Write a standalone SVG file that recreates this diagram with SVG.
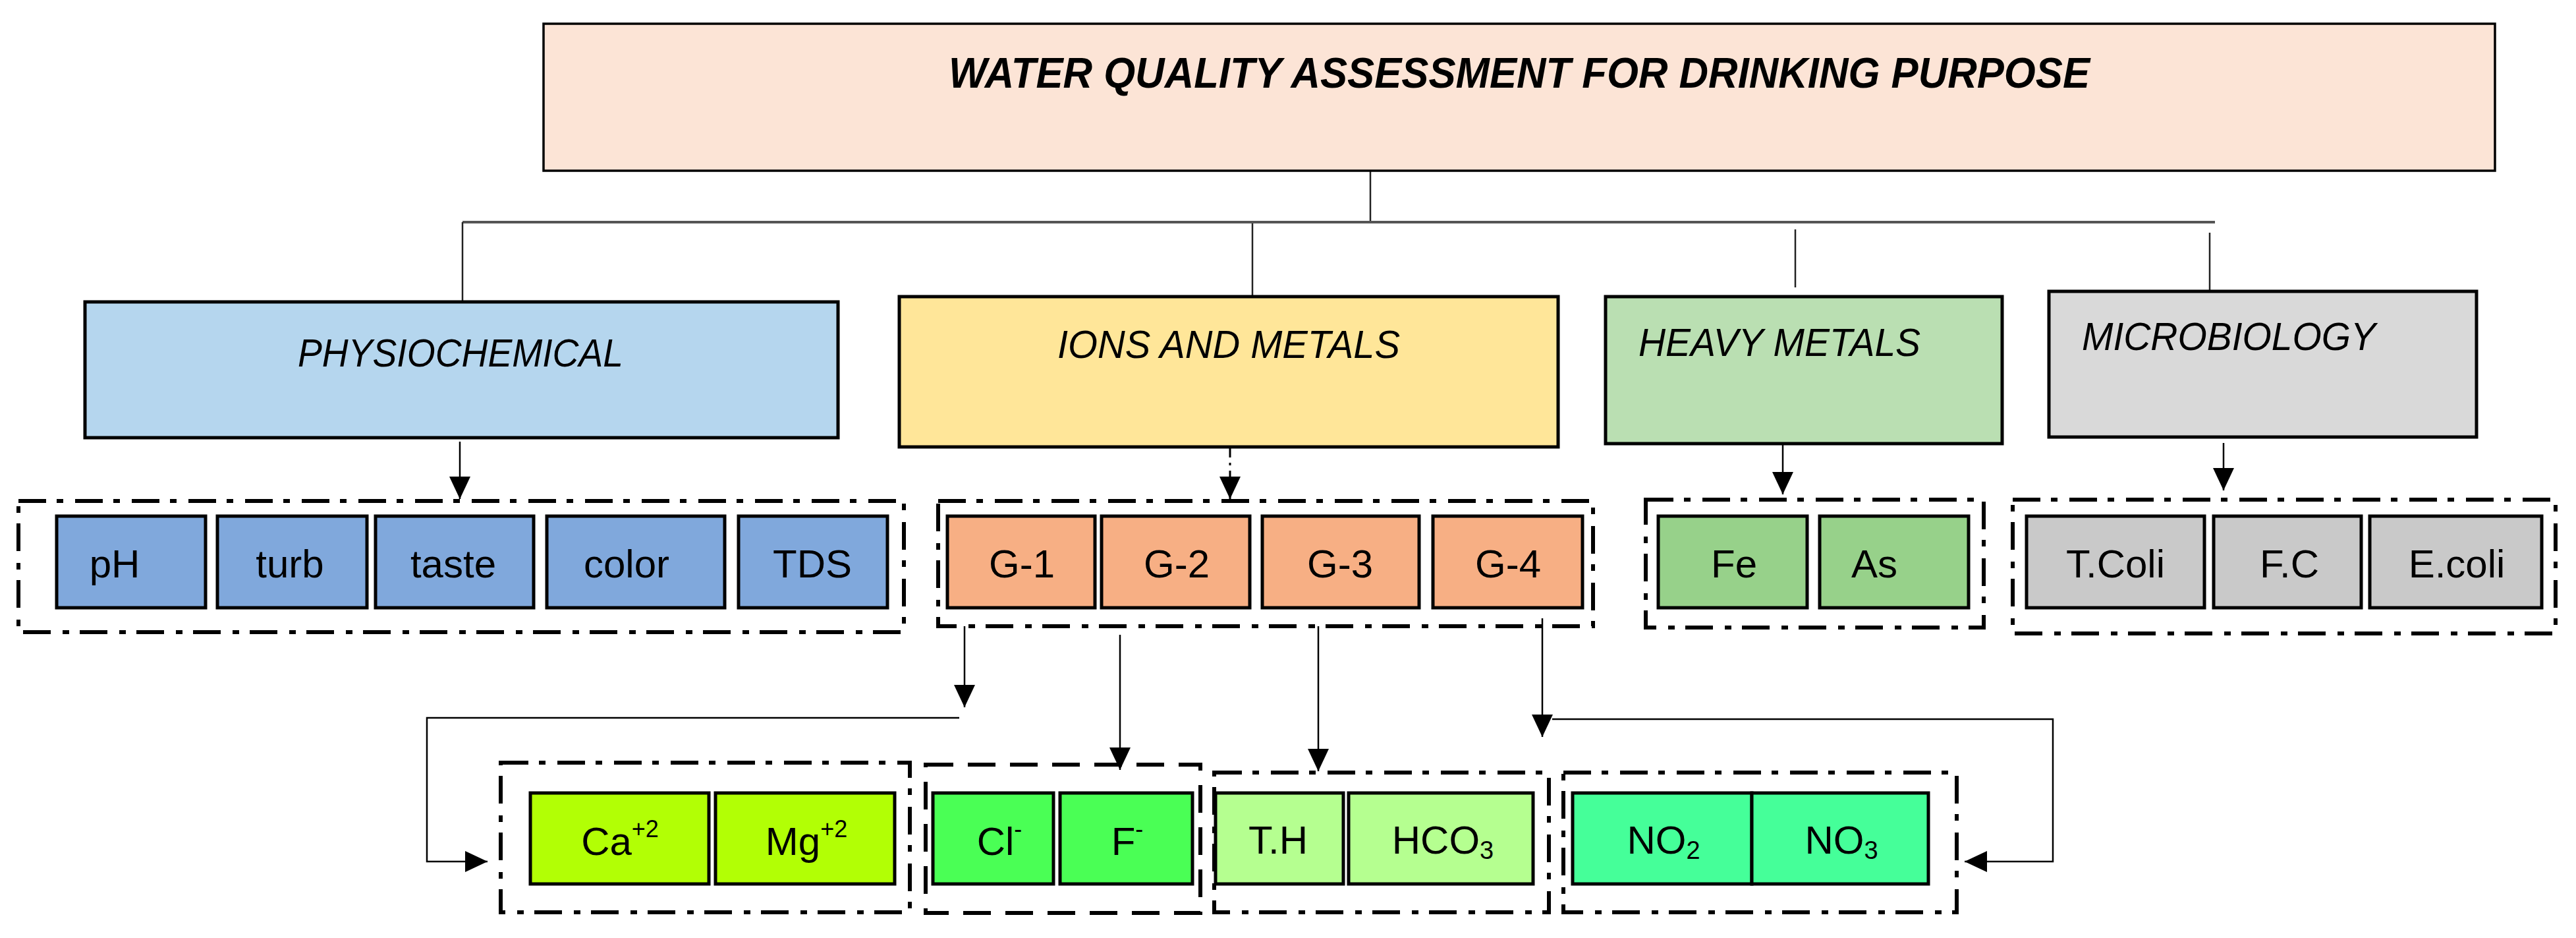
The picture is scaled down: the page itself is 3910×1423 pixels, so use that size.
<svg xmlns="http://www.w3.org/2000/svg" width="3910" height="1423" viewBox="0 0 3910 1423">
<style>
.bg{fill:#ffffff}
.box{stroke:#000;stroke-width:5}
.cat{stroke:#000;stroke-width:5}
.grp{fill:none;stroke:#000;stroke-width:6;stroke-dasharray:42 16 10 18}
.grpd{fill:none;stroke:#000;stroke-width:6;stroke-dasharray:42 22}
.lbl{font-family:"Liberation Sans",Arial,sans-serif;font-size:60px;fill:#000;text-anchor:middle}
.cattxt{font-family:"Liberation Sans",Arial,sans-serif;font-size:60px;font-style:italic;fill:#000}
.title{font-family:"Liberation Sans",Arial,sans-serif;font-size:64px;font-style:italic;font-weight:bold;fill:#000}
.ln{fill:none;stroke:#000;stroke-width:2.5}
.bus{fill:none;stroke:#555;stroke-width:4}
.drop{fill:none;stroke:#222;stroke-width:2.5}
.dash{fill:none;stroke:#000;stroke-width:3;stroke-dasharray:14 8 4 8}
</style>
<defs>
<marker id="ah" markerUnits="userSpaceOnUse" markerWidth="36" markerHeight="32" refX="34" refY="16" orient="auto">
<path d="M0,0 L34,16 L0,32 z" fill="#000"/>
</marker>
</defs>
<rect class="bg" x="0" y="0" width="3910" height="1423"/>

<g id="connectors">
<line class="drop" x1="2080" y1="259" x2="2080" y2="337"/>
<line class="bus" x1="702" y1="337" x2="3362" y2="337"/>
<line class="drop" x1="702" y1="337" x2="702" y2="456"/>
<line class="drop" x1="1901" y1="339" x2="1901" y2="448"/>
<line class="drop" x1="2725" y1="348" x2="2725" y2="436"/>
<line class="drop" x1="3354" y1="353" x2="3354" y2="440"/>
<line class="ln" x1="698" y1="670" x2="698" y2="757" marker-end="url(#ah)"/>
<line class="dash" x1="1867" y1="680" x2="1867" y2="757" marker-end="url(#ah)"/>
<line class="ln" x1="2706" y1="663" x2="2706" y2="750" marker-end="url(#ah)"/>
<line class="ln" x1="3375" y1="672" x2="3375" y2="744" marker-end="url(#ah)"/>
<line class="ln" x1="1464" y1="950" x2="1464" y2="1073" marker-end="url(#ah)"/>
<path class="ln" d="M1456,1089 H648 V1307 H740" marker-end="url(#ah)"/>
<line class="ln" x1="1700" y1="963" x2="1700" y2="1168" marker-end="url(#ah)"/>
<line class="ln" x1="2001" y1="950" x2="2001" y2="1170" marker-end="url(#ah)"/>
<line class="ln" x1="2341" y1="938" x2="2341" y2="1118" marker-end="url(#ah)"/>
<path class="ln" d="M2356,1091 H3116 V1307 H2982" marker-end="url(#ah)"/>
</g>

<g id="title">
<rect x="825" y="36" width="2962" height="223" fill="#FCE4D6" stroke="#000" stroke-width="3.5"/>
<text class="title" x="1440" y="133" textLength="1732" lengthAdjust="spacingAndGlyphs">WATER QUALITY ASSESSMENT FOR DRINKING PURPOSE</text>
</g>

<g id="physiochemical">
<rect class="cat" x="129" y="458" width="1143" height="206" fill="#B5D6EE"/>
<text class="cattxt" x="452" y="556" textLength="494" lengthAdjust="spacingAndGlyphs">PHYSIOCHEMICAL</text>
</g>
<g id="ions-and-metals">
<rect class="cat" x="1365" y="450" width="1000" height="228" fill="#FFE699"/>
<text class="cattxt" x="1605" y="543" textLength="520" lengthAdjust="spacingAndGlyphs">IONS AND METALS</text>
</g>
<g id="heavy-metals">
<rect class="cat" x="2437" y="450" width="602" height="223" fill="#BADFB2"/>
<text class="cattxt" x="2487" y="540" textLength="428" lengthAdjust="spacingAndGlyphs">HEAVY METALS</text>
</g>
<g id="microbiology">
<rect class="cat" x="3110" y="442" width="649" height="221" fill="#D9D9D9"/>
<text class="cattxt" x="3160" y="531" textLength="446" lengthAdjust="spacingAndGlyphs">MICROBIOLOGY</text>
</g>

<g id="group-physio">
<rect class="grp" x="28" y="760" width="1344" height="199"/>
<g id="ph"><rect class="box" x="86" y="783" width="226" height="139" fill="#80A8DC"/><text class="lbl" x="174" y="876">pH</text></g>
<g id="turb"><rect class="box" x="330" y="783" width="227" height="139" fill="#80A8DC"/><text class="lbl" x="440" y="876">turb</text></g>
<g id="taste"><rect class="box" x="570" y="783" width="240" height="139" fill="#80A8DC"/><text class="lbl" x="688" y="876">taste</text></g>
<g id="color"><rect class="box" x="830" y="783" width="270" height="139" fill="#80A8DC"/><text class="lbl" x="951" y="876">color</text></g>
<g id="tds"><rect class="box" x="1121" y="783" width="226" height="139" fill="#80A8DC"/><text class="lbl" x="1233" y="876">TDS</text></g>
</g>

<g id="group-ions">
<rect class="grp" x="1424" y="760" width="994" height="190"/>
<g id="g1"><rect class="box" x="1438" y="783" width="224" height="139" fill="#F7AF84"/><text class="lbl" x="1551" y="876">G-1</text></g>
<g id="g2"><rect class="box" x="1672" y="783" width="225" height="139" fill="#F7AF84"/><text class="lbl" x="1786" y="876">G-2</text></g>
<g id="g3"><rect class="box" x="1916" y="783" width="238" height="139" fill="#F7AF84"/><text class="lbl" x="2034" y="876">G-3</text></g>
<g id="g4"><rect class="box" x="2175" y="783" width="227" height="139" fill="#F7AF84"/><text class="lbl" x="2289" y="876">G-4</text></g>
</g>

<g id="group-heavy">
<rect class="grp" x="2498" y="758" width="513" height="194"/>
<g id="fe"><rect class="box" x="2517" y="783" width="226" height="139" fill="#97D18A"/><text class="lbl" x="2632" y="876">Fe</text></g>
<g id="as"><rect class="box" x="2762" y="783" width="226" height="139" fill="#97D18A"/><text class="lbl" x="2845" y="876">As</text></g>
</g>

<g id="group-micro">
<rect class="grp" x="3055" y="758" width="824" height="203"/>
<g id="tcoli"><rect class="box" x="3076" y="783" width="270" height="139" fill="#C9C9C9"/><text class="lbl" x="3211" y="876">T.Coli</text></g>
<g id="fc"><rect class="box" x="3360" y="783" width="224" height="139" fill="#C9C9C9"/><text class="lbl" x="3475" y="876">F.C</text></g>
<g id="ecoli"><rect class="box" x="3597" y="783" width="261" height="139" fill="#C9C9C9"/><text class="lbl" x="3729" y="876">E.coli</text></g>
</g>

<g id="group-ca-mg">
<rect class="grp" x="760" y="1157" width="621" height="227"/>
<g id="ca"><rect class="box" x="805" y="1203" width="271" height="138" fill="#B2FF05"/><text class="lbl" x="941" y="1297">Ca<tspan font-size="36" dy="-27">+2</tspan></text></g>
<g id="mg"><rect class="box" x="1086" y="1203" width="272" height="138" fill="#B2FF05"/><text class="lbl" x="1224" y="1297">Mg<tspan font-size="36" dy="-27">+2</tspan></text></g>
</g>

<g id="group-cl-f">
<rect class="grpd" x="1405" y="1160" width="417" height="225"/>
<g id="cl"><rect class="box" x="1416" y="1203" width="183" height="138" fill="#4AFF55"/><text class="lbl" x="1517" y="1297">Cl<tspan font-size="36" dy="-27">-</tspan></text></g>
<g id="f"><rect class="box" x="1609" y="1203" width="201" height="138" fill="#4AFF55"/><text class="lbl" x="1711" y="1297">F<tspan font-size="36" dy="-27">-</tspan></text></g>
</g>

<g id="group-th-hco3">
<rect class="grp" x="1843" y="1172" width="508" height="212"/>
<g id="th"><rect class="box" x="1845" y="1203" width="194" height="138" fill="#B5FF90"/><text class="lbl" x="1940" y="1295">T.H</text></g>
<g id="hco3"><rect class="box" x="2047" y="1203" width="280" height="138" fill="#B5FF90"/><text class="lbl" x="2190" y="1295">HCO<tspan font-size="38" dy="8">3</tspan></text></g>
</g>

<g id="group-no">
<rect class="grp" x="2373" y="1172" width="597" height="212"/>
<g id="no2"><rect class="box" x="2387" y="1203" width="272" height="138" fill="#45FF99"/><text class="lbl" x="2525" y="1295">NO<tspan font-size="38" dy="8">2</tspan></text></g>
<g id="no3"><rect class="box" x="2659" y="1203" width="268" height="138" fill="#45FF99"/><text class="lbl" x="2795" y="1295">NO<tspan font-size="38" dy="8">3</tspan></text></g>
</g>
</svg>
